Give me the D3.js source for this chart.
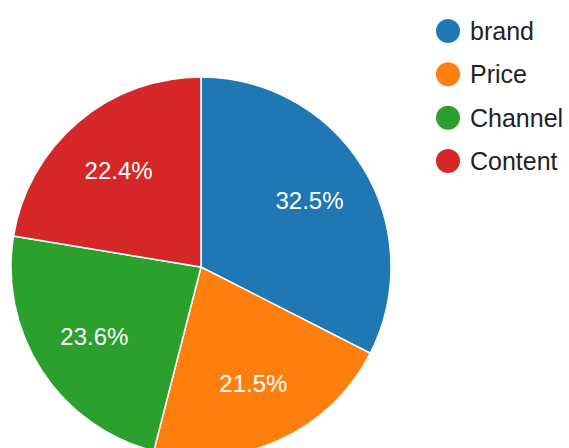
<!DOCTYPE html>
<html>
<head>
<meta charset="utf-8">
<script src="https://cdn.jsdelivr.net/npm/d3@7"></script>
<style>
  html, body { margin: 0; padding: 0; background: #fff; }
  svg { display: block; }
</style>
</head>
<body>
<svg id="chart" width="569" height="448"></svg>
<script>
// Share of responses per factor
const categories = ["brand", "Price", "Channel", "Content"];
const values = [32.5, 21.5, 23.6, 22.4];
const colors = ["#1f77b4", "#ff7f0e", "#2ca02c", "#d62728"];

const width = 569, height = 448;
const cx = 201, cy = 267, radius = 190;

const svg = d3.select("#chart");

const color = d3.scaleOrdinal().domain(categories).range(colors);

const pie = d3.pie().sort(null).value(d => d.value);
const data = categories.map((c, i) => ({ name: c, value: values[i] }));
const arcs = pie(data);

const arc = d3.arc().innerRadius(0).outerRadius(radius);
const labelArc = d3.arc().innerRadius(radius * 0.67).outerRadius(radius * 0.67);

const g = svg.append("g").attr("transform", `translate(${cx},${cy})`);

g.selectAll("path.slice")
  .data(arcs)
  .join("path")
  .attr("class", "slice")
  .attr("d", arc)
  .attr("fill", d => color(d.data.name))
  .attr("stroke", "#fff")
  .attr("stroke-width", 1.5);

const total = d3.sum(values);
g.selectAll("text.pct")
  .data(arcs)
  .join("text")
  .attr("class", "pct")
  .attr("transform", d => `translate(${labelArc.centroid(d)})`)
  .attr("text-anchor", "middle")
  .attr("dy", "0.36em")
  .attr("font-family", "'Liberation Sans', Arial, sans-serif")
  .attr("font-size", 24)
  .attr("fill", "#fff")
  .text(d => (d.data.value / total * 100).toFixed(1) + "%");

// Legend
const legendY = d3.scalePoint().domain(categories).range([31, 161]);
const legend = svg.append("g");
const item = legend.selectAll("g.item")
  .data(categories)
  .join("g")
  .attr("class", "item")
  .attr("transform", d => `translate(448,${legendY(d)})`);

item.append("circle")
  .attr("r", 12)
  .attr("fill", d => color(d));

item.append("text")
  .attr("x", 22)
  .attr("dy", "0.36em")
  .attr("font-family", "'Liberation Sans', Arial, sans-serif")
  .attr("font-size", 25)
  .attr("fill", "#222")
  .text(d => d);
</script>
</body>
</html>
